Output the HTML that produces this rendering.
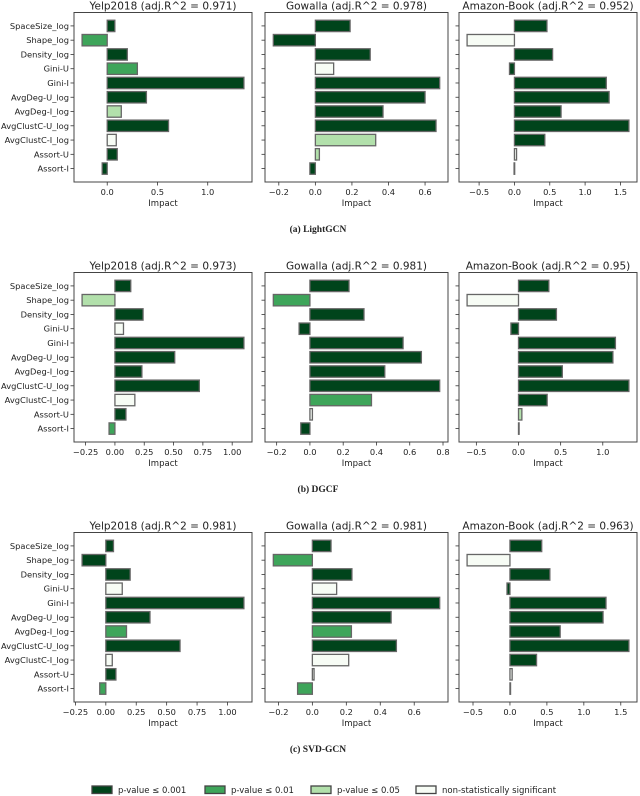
<!DOCTYPE html>
<html><head><meta charset="utf-8"><style>
html,body{margin:0;padding:0;background:#fff;width:640px;height:796px;overflow:hidden}
svg{display:block}
text{font-family:"DejaVu Sans","Liberation Sans",sans-serif;fill:#222}
.cap{font-family:"Liberation Serif",serif;font-weight:bold;font-size:9.5px}
</style></head><body>
<svg id="fig" width="640" height="796" viewBox="0 0 640 796"></svg>
<script>
const categories=["SpaceSize_log","Shape_log","Density_log","Gini-U","Gini-I","AvgDeg-U_log","AvgDeg-I_log","AvgClustC-U_log","AvgClustC-I_log","Assort-U","Assort-I"];
const models=["(a) LightGCN","(b) DGCF","(c) SVD-GCN"];
const datasets=["Yelp2018","Gowalla","Amazon-Book"];
const r2=[["0.971","0.978","0.952"],["0.973","0.981","0.95"],["0.981","0.981","0.963"]];
const lightgcnYelp=[0.076,-0.25,0.2,0.3,1.36,0.39,0.14,0.61,0.09,0.1,-0.05];
const lightgcnGowalla=[0.19,-0.23,0.3,0.10,0.68,0.6,0.37,0.66,0.33,0.022,-0.03];
const lightgcnAmazon=[0.46,-0.67,0.54,-0.07,1.30,1.34,0.66,1.62,0.43,0.03,-0.005];
const dgcfYelp=[0.135,-0.28,0.24,0.073,1.10,0.51,0.23,0.72,0.17,0.094,-0.05];
const dgcfGowalla=[0.235,-0.22,0.325,-0.065,0.56,0.67,0.45,0.78,0.37,0.015,-0.055];
const dgcfAmazon=[0.36,-0.61,0.45,-0.09,1.15,1.12,0.52,1.31,0.34,0.04,0.003];
const svdYelp=[0.063,-0.195,0.2,0.135,1.135,0.363,0.17,0.61,0.053,0.083,-0.05];
const svdGowalla=[0.11,-0.23,0.233,0.143,0.75,0.464,0.23,0.495,0.214,0.01,-0.087];
const svdAmazon=[0.43,-0.58,0.54,-0.04,1.30,1.26,0.68,1.61,0.36,0.03,0.004];
const sigLightgcn=[[3,2,3,2,3,3,1,3,0,3,3],[3,3,3,0,3,3,3,3,1,1,3],[3,0,3,3,3,3,3,3,3,0,3]];
const sigDgcf=[[3,1,3,0,3,3,3,3,0,3,2],[3,2,3,3,3,3,3,3,2,0,3],[3,0,3,3,3,3,3,3,3,1,0]];
const sigSvd=[[3,3,3,0,3,3,2,3,0,3,2],[3,2,3,0,3,3,2,3,0,0,2],[3,0,3,3,3,3,3,3,3,0,0]];
const ticksRow1=[[0,0.5,1.0],[-0.2,0,0.2,0.4,0.6],[-0.5,0,0.5,1.0,1.5]];
const ticksRow2=[[-0.25,0,0.25,0.5,0.75,1.0],[-0.2,0,0.2,0.4,0.6,0.8],[-0.5,0,0.5,1.0]];
const ticksRow3=[[-0.25,0,0.25,0.5,0.75,1.0],[-0.2,0,0.2,0.4,0.6],[-0.5,0,0.5,1.0,1.5]];
const tickLabelsRow1=[["0.0","0.5","1.0"],["−0.2","0.0","0.2","0.4","0.6"],["−0.5","0.0","0.5","1.0","1.5"]];
const tickLabelsRow2=[["−0.25","0.00","0.25","0.50","0.75","1.00"],["−0.2","0.0","0.2","0.4","0.6","0.8"],["−0.5","0.0","0.5","1.0"]];
const tickLabelsRow3=[["−0.25","0.00","0.25","0.50","0.75","1.00"],["−0.2","0.0","0.2","0.4","0.6"],["−0.5","0.0","0.5","1.0","1.5"]];
const legendLabels=["p-value ≤ 0.001","p-value ≤ 0.01","p-value ≤ 0.05","non-statistically significant"];

const values=[[lightgcnYelp,lightgcnGowalla,lightgcnAmazon],[dgcfYelp,dgcfGowalla,dgcfAmazon],[svdYelp,svdGowalla,svdAmazon]];
const sigs=[sigLightgcn,sigDgcf,sigSvd];
const ticks=[ticksRow1,ticksRow2,ticksRow3];
const tickLabels=[tickLabelsRow1,tickLabelsRow2,tickLabelsRow3];
const colors=["#f7fcf5","#b2e0ab","#3ea55a","#00441b"];
const NS="http://www.w3.org/2000/svg";
const svg=document.getElementById('fig');
function mk(tag,attrs,parent){const e=document.createElementNS(NS,tag);for(const k in attrs)e.setAttribute(k,attrs[k]);(parent||svg).appendChild(e);return e;}
const colX=[[74,252],[265,448],[459,637]];
const rowH=260, boxTop=12.5, boxBot=182;

for(let r=0;r<3;r++){
  const off=r*rowH;
  for(let p=0;p<3;p++){
    const vals=values[r][p];
    const g=mk('g',{});
    
    
    const x0=colX[p][0],x1=colX[p][1];
    let mn=Math.min(0,...vals),mx=Math.max(0,...vals);const m=(mx-mn)*0.05;mn-=m;mx+=m;
    const xs=v=>x0+(v-mn)/(mx-mn)*(x1-x0);
    const ymin=-0.94,ymax=categories.length-1+0.94;
    const ys=i=>off+boxTop+(i-ymin)/(ymax-ymin)*(boxBot-boxTop);
    const t=mk('text',{x:(x0+x1)/2,y:off+9.5,'text-anchor':'middle','font-size':'10.5'},g);
    t.textContent=datasets[p]+" (adj.R^2 = "+r2[r][p]+")";
    
    
    vals.forEach((v,i)=>{
      const a=xs(Math.min(0,v)),b=xs(Math.max(0,v));
      const bar=mk('rect',{x:a,y:ys(i)-5.7,width:Math.max(b-a,0.6),height:11.4,fill:colors[sigs[r][p][i]],stroke:'#666','stroke-width':1.3},g);
      
      
      mk('line',{x1:x0,x2:x0-3.5,y1:ys(i),y2:ys(i),stroke:'#333','stroke-width':0.8},g);
      if(p===0){
        const l=mk('text',{x:x0-5,y:ys(i)+3,'text-anchor':'end','font-size':'8.3'},g);
        l.textContent=categories[i];
        
        
      }
    });
    const fr=mk('rect',{x:x0,y:off+boxTop,width:x1-x0,height:boxBot-boxTop,fill:'none',stroke:'#444','stroke-width':1},g);
    
    
    ticks[r][p].forEach((tv,k)=>{
      const x=xs(tv);
      mk('line',{x1:x,x2:x,y1:off+boxBot,y2:off+boxBot+3.5,stroke:'#333','stroke-width':0.8},g);
      const tl=mk('text',{x:x,y:off+boxBot+13,'text-anchor':'middle','font-size':'8.3'},g);
      tl.textContent=tickLabels[r][p][k];
      
      
    });
    const xl=mk('text',{x:(x0+x1)/2,y:off+206,'text-anchor':'middle','font-size':'8.5'},g);
    xl.textContent="Impact";
    
    
  }
  const c=mk('text',{x:318,y:off+232,'text-anchor':'middle','class':'cap'});
  c.textContent=models[r];
  
  
}
const legX=[92,205,311,416];
legendLabels.forEach((lab,i)=>{
  const g=mk('g',{});
  
  
  mk('rect',{x:legX[i],y:786,width:20,height:7.5,fill:colors[3-i],stroke:'#444','stroke-width':1.3},g);
  const t=mk('text',{x:legX[i]+26,y:793,'font-size':'8.5'},g);
  t.textContent=lab;
});
</script>
</body></html>
